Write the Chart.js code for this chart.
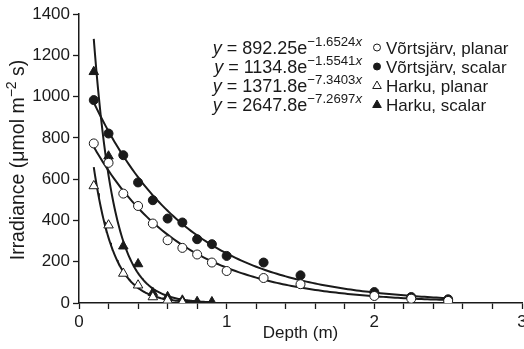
<!DOCTYPE html>
<html>
<head>
<meta charset="utf-8">
<script src="https://cdn.jsdelivr.net/npm/chart.js@4/dist/chart.umd.min.js"></script>
<style>
  html, body { margin: 0; padding: 0; background: #fff; overflow: hidden; }
  #wrap { position: relative; width: 524px; height: 349px; overflow: hidden; }
  #c { position: absolute; left: 0; top: 0; }
</style>
</head>
<body>
<div id="wrap"><canvas id="c" width="534" height="349"></canvas></div>
<script>
// ---- data ----
const depthV = [0.1, 0.2, 0.3, 0.4, 0.5, 0.6, 0.7, 0.8, 0.9, 1.0, 1.25, 1.5, 2.0, 2.25, 2.5];
const vortsPlanar = [773, 679, 530, 470, 385, 304, 267, 235, 196, 155, 121, 91, 34, 21, 10];
const vortsScalar = [983, 821, 716, 584, 498, 409, 390, 309, 285, 228, 196, 134, 53, 29, 18];
const depthHPlanar = [0.1, 0.2, 0.3, 0.4, 0.5, 0.6, 0.7];
const harkuPlanar = [567, 377, 143, 86, 29, 13, 4];
const depthHScalar = [0.1, 0.2, 0.3, 0.4, 0.5, 0.6, 0.7, 0.8, 0.9];
const harkuScalar = [1120, 711, 275, 189, 50, 30, 13, 6, 5];

// fitted exponential curves as printed on the chart: y = a * e^(-b x)
const seriesNames = ['Võrtsjärv, planar', 'Võrtsjärv, scalar', 'Harku, planar', 'Harku, scalar'];
const fitA = [892.25, 1134.8, 1371.8, 2647.8];
const fitB = [1.6524, 1.5541, 7.3403, 7.2697];
const fitAText = ['892.25', '1134.8', '1371.8', '2647.8'];
const fitBText = ['1.6524', '1.5541', '7.3403', '7.2697'];
const fitStart = [0.1, 0.1, 0.1, 0.1];
const fitEnd = [2.5, 2.5, 0.8, 0.9];

const yTicks = [0, 200, 400, 600, 800, 1000, 1200, 1400];
const xTickLabels = ['0', '1', '2', '3'];

function fitCurve(i) {
  const pts = [];
  const n = 120;
  for (let k = 0; k <= n; k++) {
    const x = fitStart[i] + (fitEnd[i] - fitStart[i]) * k / n;
    pts.push({ x: x, y: fitA[i] * Math.exp(-fitB[i] * x) });
  }
  return pts;
}
function pairs(xs, ys) { return xs.map((x, i) => ({ x: x, y: ys[i] })); }

const INK = '#1a1a1a';
const FONT = '"Liberation Sans", Arial, Helvetica, sans-serif';

const pointSets = [
  { data: pairs(depthV, vortsPlanar), pointStyle: 'circle', pointRadius: 4.5, backgroundColor: '#fff' },
  { data: pairs(depthV, vortsScalar), pointStyle: 'circle', pointRadius: 4.5, backgroundColor: INK },
  { data: pairs(depthHPlanar, harkuPlanar), pointStyle: 'triangle', pointRadius: 5.5, backgroundColor: '#fff' },
  { data: pairs(depthHScalar, harkuScalar), pointStyle: 'triangle', pointRadius: 5.5, backgroundColor: INK }
];

const datasets = [];
pointSets.forEach((p, i) => {
  datasets.push({
    label: seriesNames[i],
    type: 'scatter',
    data: p.data,
    showLine: false,
    pointStyle: p.pointStyle,
    pointRadius: p.pointRadius,
    pointHoverRadius: p.pointRadius,
    pointBackgroundColor: p.backgroundColor,
    pointBorderColor: INK,
    pointBorderWidth: 1,
    order: 0
  });
});
fitA.forEach((a, i) => {
  datasets.push({
    label: 'fit ' + seriesNames[i],
    type: 'line',
    data: fitCurve(i),
    borderColor: INK,
    borderWidth: 2,
    pointRadius: 0,
    tension: 0,
    fill: false,
    order: 1
  });
});

const annotPlugin = {
  id: 'annot',
  afterDraw(chart) {
    const ctx = chart.ctx;
    ctx.save();
    ctx.fillStyle = INK;
    ctx.strokeStyle = INK;
    ctx.textBaseline = 'alphabetic';

    // ---- legend with equations ----
    const eqF = '18px ' + FONT;
    const eqIF = 'italic 18px ' + FONT;
    const supF = '13.2px ' + FONT;
    const supIF = 'italic 13.2px ' + FONT;
    const nameF = '17px ' + FONT;
    const rightEq = 362;
    const markX = 377;
    const textX = 386;
    for (let i = 0; i < 4; i++) {
      const base = 53.5 + i * 19;
      const parts = [
        { t: 'y', f: eqIF, dy: 0 },
        { t: ' = ' + fitAText[i] + 'e', f: eqF, dy: 0 },
        { t: '\u2212' + fitBText[i], f: supF, dy: -7.5 },
        { t: 'x', f: supIF, dy: -7.5 }
      ];
      let w = 0;
      parts.forEach(p => { ctx.font = p.f; p.w = ctx.measureText(p.t).width; w += p.w; });
      let x = rightEq - w;
      parts.forEach(p => { ctx.font = p.f; ctx.fillText(p.t, x, base + p.dy); x += p.w; });

      // marker
      const my = base - 6;
      ctx.lineWidth = 1;
      ctx.beginPath();
      if (i < 2) {
        ctx.arc(markX, my, 3.5, 0, Math.PI * 2);
      } else {
        ctx.moveTo(markX, my - 4.5);
        ctx.lineTo(markX + 4.3, my + 3);
        ctx.lineTo(markX - 4.3, my + 3);
        ctx.closePath();
      }
      if (i % 2 === 1) { ctx.fill(); } else { ctx.fillStyle = '#fff'; ctx.fill(); ctx.fillStyle = INK; }
      ctx.stroke();

      ctx.font = nameF;
      ctx.fillText(seriesNames[i], textX, base);
    }

    // ---- x axis title ----
    ctx.font = '17px ' + FONT;
    ctx.textAlign = 'center';
    ctx.fillText('Depth (m)', (79 + 522) / 2, 338);

    // ---- y axis title (rotated, with superscript) ----
    ctx.textAlign = 'left';
    const yParts = [
      { t: 'Irradiance (\u03bcmol m', f: '19.5px ' + FONT, dy: 0 },
      { t: '\u22122', f: '14px ' + FONT, dy: -8 },
      { t: ' s)', f: '19.5px ' + FONT, dy: 0 }
    ];
    let tw = 0;
    yParts.forEach(p => { ctx.font = p.f; p.w = ctx.measureText(p.t).width; tw += p.w; });
    ctx.translate(24, 160);
    ctx.rotate(-Math.PI / 2);
    let xx = -tw / 2;
    yParts.forEach(p => { ctx.font = p.f; ctx.fillText(p.t, xx, p.dy); xx += p.w; });
    ctx.restore();
  }
};

new Chart(document.getElementById('c'), {
  type: 'scatter',
  data: { datasets: datasets },
  options: {
    responsive: false,
    animation: false,
    events: [],
    layout: { padding: { left: 0, right: 12, top: 14, bottom: 0 } },
    plugins: { legend: { display: false }, tooltip: { enabled: false } },
    scales: {
      x: {
        type: 'linear',
        min: 0, max: 3,
        afterFit(scale) { scale.height = 46; },
        border: { display: true, color: INK, width: 1.5 },
        grid: { display: true, drawOnChartArea: false, drawTicks: true, tickLength: 6, color: INK, tickWidth: 1.3 },
        ticks: {
          stepSize: 0.2,
          autoSkip: false,
          maxRotation: 0,
          padding: 3,
          color: INK,
          font: { family: FONT, size: 17 },
          callback(v) {
            const r = Math.round(v);
            return Math.abs(v - r) < 1e-6 ? xTickLabels[r] : '';
          }
        }
      },
      y: {
        type: 'linear',
        min: yTicks[0], max: yTicks[yTicks.length - 1],
        afterFit(scale) { scale.width = 79; },
        afterBuildTicks(scale) { scale.ticks = yTicks.map(v => ({ value: v })); },
        border: { display: true, color: INK, width: 1.5 },
        grid: { display: true, drawOnChartArea: false, drawTicks: true, tickLength: 6, color: INK, tickWidth: 1.3 },
        ticks: {
          padding: 3,
          color: INK,
          font: { family: FONT, size: 17 },
          callback(v) { return String(v); }
        }
      }
    }
  },
  plugins: [annotPlugin]
});
</script>
</body>
</html>
